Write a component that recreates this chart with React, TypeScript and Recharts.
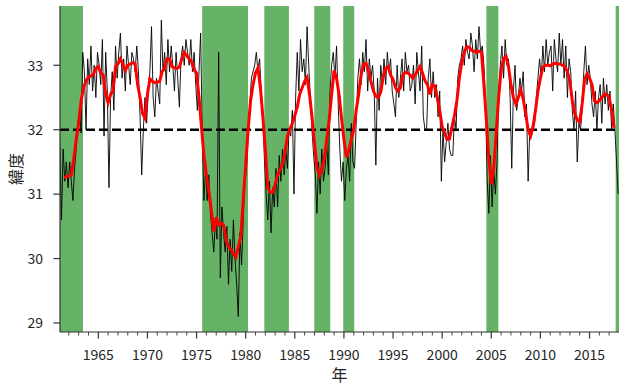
import React from 'react';
import { LineChart, Line, XAxis, YAxis, ReferenceArea, ReferenceLine } from 'recharts';

// Monthly-ish (bimonthly) observed latitude, one row per year starting 1961
const RAW_START_YEAR = 1961;
const rawLatitude: number[][] = [
  [31.8, 30.6, 31.7, 31.2, 31.5, 31.1], // 1961
  [31.5, 31.2, 30.9, 31.4, 31.7, 32.1], // 1962
  [32.3, 31.95, 33.2, 32.9, 32.0, 33.1], // 1963
  [32.7, 33.3, 32.6, 33.0, 32.5, 33.2], // 1964
  [33.0, 32.7, 33.4, 31.9, 33.2, 32.6], // 1965
  [31.1, 32.5, 32.9, 32.3, 33.3, 32.8], // 1966
  [33.2, 33.5, 32.8, 33.1, 32.6, 33.3], // 1967
  [33.0, 32.7, 33.2, 33.1, 32.9, 33.3], // 1968
  [32.9, 32.2, 31.3, 32.0, 32.5, 32.1], // 1969
  [32.6, 32.9, 33.6, 32.5, 32.2, 32.8], // 1970
  [32.6, 32.4, 33.7, 32.9, 33.2, 32.7], // 1971
  [33.4, 32.9, 33.3, 33.0, 32.6, 33.2], // 1972
  [32.8, 32.35, 33.1, 33.3, 33.0, 33.4], // 1973
  [33.2, 33.0, 33.4, 32.9, 33.2, 32.7], // 1974
  [32.3, 32.9, 33.5, 31.9, 30.9, 31.4], // 1975
  [30.9, 31.3, 30.7, 30.4, 30.1, 30.6], // 1976
  [30.3, 33.2, 29.7, 30.8, 30.4, 30.1], // 1977
  [30.5, 29.6, 30.3, 29.8, 30.6, 30.0], // 1978
  [29.6, 29.1, 30.4, 29.9, 30.6, 31.2], // 1979
  [31.4, 31.9, 32.4, 32.8, 32.9, 33.0], // 1980
  [33.2, 32.9, 33.1, 32.6, 32.2, 31.5], // 1981
  [31.0, 30.6, 31.2, 30.4, 31.1, 30.8], // 1982
  [31.4, 30.8, 31.6, 31.2, 31.7, 31.3], // 1983
  [31.7, 31.4, 32.0, 31.9, 32.3, 31.0], // 1984
  [32.5, 33.2, 32.6, 33.4, 32.9, 33.1], // 1985
  [32.7, 33.6, 33.0, 32.5, 32.0, 31.6], // 1986
  [31.3, 30.7, 31.5, 31.0, 31.7, 31.2], // 1987
  [31.4, 31.8, 31.3, 32.6, 33.0, 33.2], // 1988
  [32.8, 33.3, 32.4, 31.7, 31.2, 31.5], // 1989
  [30.9, 31.4, 31.6, 31.2, 32.1, 31.5], // 1990
  [31.4, 32.1, 32.8, 33.1, 32.7, 33.2], // 1991
  [32.9, 33.4, 32.6, 33.1, 32.8, 33.0], // 1992
  [32.6, 31.45, 32.8, 32.3, 33.0, 32.7], // 1993
  [33.1, 32.7, 33.2, 32.9, 33.1, 32.6], // 1994
  [32.4, 32.2, 33.0, 32.5, 32.8, 33.1], // 1995
  [32.6, 33.2, 32.9, 33.0, 32.6, 32.7], // 1996
  [33.0, 32.4, 33.2, 32.9, 32.6, 33.3], // 1997
  [32.2, 32.0, 32.0, 32.8, 33.1, 32.5], // 1998
  [32.9, 32.5, 32.7, 32.2, 32.6, 31.2], // 1999
  [32.0, 31.5, 31.8, 32.1, 31.7, 31.6], // 2000
  [31.6, 32.2, 32.0, 32.8, 33.0, 33.1], // 2001
  [33.3, 33.0, 33.4, 33.2, 33.1, 33.5], // 2002
  [33.3, 32.9, 33.4, 33.1, 33.6, 33.2], // 2003
  [33.3, 33.0, 32.4, 31.2, 30.7, 31.6], // 2004
  [30.8, 31.4, 31.0, 31.5, 32.6, 33.0], // 2005
  [33.3, 32.8, 33.4, 33.0, 33.1, 32.5], // 2006
  [31.4, 32.6, 33.0, 32.3, 32.5, 32.8], // 2007
  [32.6, 32.9, 32.2, 32.4, 31.2, 32.0], // 2008
  [31.9, 32.0, 32.1, 32.5, 32.8, 33.1], // 2009
  [32.8, 33.3, 32.9, 33.4, 33.0, 33.2], // 2010
  [33.3, 32.6, 33.4, 33.1, 32.9, 33.5], // 2011
  [33.0, 33.4, 32.8, 33.3, 32.5, 33.1], // 2012
  [32.9, 32.3, 32.0, 32.6, 31.5, 32.1], // 2013
  [32.0, 32.3, 32.9, 33.3, 32.7, 33.0], // 2014
  [32.8, 32.4, 32.2, 32.6, 32.0, 32.5], // 2015
  [32.7, 32.1, 32.8, 32.4, 32.7, 32.3], // 2016
  [32.6, 32.0, 32.4, 32.0, 31.5, 31.0], // 2017
];

// Smoothed latitude, quarterly, starting 1961.5
const SMOOTH_START = 1961.5;
const smoothLatitude: number[] = [
  31.26, 31.27,
  31.28, 31.30, 31.55, 31.85,
  32.10, 32.45, 32.65, 32.76,
  32.82, 32.83, 32.86, 32.95,
  32.98, 32.88, 32.85, 32.55,
  32.42, 32.55, 32.60, 32.98,
  33.02, 33.10, 33.02, 32.92,
  33.00, 33.02, 33.04, 33.02,
  32.70, 32.50, 32.25, 32.18,
  32.55, 32.79, 32.75, 32.73,
  32.74, 32.75, 32.90, 32.95,
  33.10, 33.10, 32.98, 32.96,
  32.95, 32.97, 33.10, 33.20,
  33.15, 33.10, 33.05, 32.93,
  32.88, 32.50, 32.04, 31.60,
  31.30, 31.05, 30.75, 30.42,
  30.64, 30.52, 30.55, 30.52,
  30.30, 30.18, 30.15, 30.08,
  30.02, 30.18, 30.35, 30.90,
  31.45, 32.00, 32.45, 32.70,
  32.88, 32.96, 32.65, 32.20,
  31.70, 31.10, 31.03, 31.03,
  31.15, 31.30, 31.38, 31.46,
  31.65, 31.90, 32.01, 32.10,
  32.22, 32.35, 32.55, 32.65,
  32.75, 32.81, 32.55, 32.20,
  31.80, 31.42, 31.29, 31.38,
  31.55, 31.85, 32.15, 32.55,
  32.92, 32.80, 32.55, 32.19,
  31.85, 31.57, 31.68, 31.85,
  32.00, 32.30, 32.55, 32.85,
  33.02, 33.03, 32.91, 32.75,
  32.60, 32.52, 32.50, 32.58,
  32.82, 32.95, 32.98, 32.85,
  32.78, 32.65, 32.60, 32.65,
  32.85, 32.89, 32.88, 32.85,
  32.80, 32.85, 32.92, 32.98,
  32.88, 32.76, 32.70, 32.55,
  32.70, 32.68, 32.50, 32.30,
  32.05, 31.95, 31.85, 31.86,
  32.05, 32.22, 32.45, 32.80,
  33.05, 33.20, 33.29, 33.28,
  33.23, 33.22, 33.20, 33.22,
  33.20, 32.70, 32.15, 31.55,
  31.15, 31.40, 31.95, 32.50,
  32.92, 33.10, 33.14, 32.98,
  32.70, 32.50, 32.40, 32.50,
  32.62, 32.48, 32.25, 32.00,
  31.90, 32.05, 32.30, 32.60,
  32.80, 32.97, 33.00, 33.00,
  32.99, 33.02, 33.03, 33.02,
  33.02, 33.00, 32.98, 32.90,
  32.75, 32.45, 32.25, 32.15,
  32.12, 32.40, 32.78, 32.87,
  32.80, 32.70, 32.45, 32.42,
  32.45, 32.50, 32.55, 32.55,
  32.50, 32.30, 32.03,
];

// Large-meander periods (shaded), [start, end] in decimal years
const meanderStarts: number[] = [1961.1, 1975.57, 1981.9, 1986.98, 1989.93, 2004.5, 2017.66];
const meanderEnds: number[] = [1963.44, 1980.24, 1984.4, 1988.61, 1991.05, 2005.72, 2018.0];

const THRESHOLD = 32;
const xTicks: number[] = Array.from({ length: 56 }, (_, i) => 1962 + i);
const yTicks: number[] = [29, 30, 31, 32, 33];
const X_DOMAIN: [number, number] = [1961.1, 2018.0];
const Y_DOMAIN: [number, number] = [28.86, 33.92];

const rawData = rawLatitude.flatMap((row, yi) =>
  row.map((v, k) => ({ t: RAW_START_YEAR + yi + (k + 0.5) / 6, v }))
);
const smoothData = smoothLatitude.map((v, i) => ({ t: SMOOTH_START + i * 0.25, v }));

const FONT = '"Noto Sans CJK JP", "Noto Sans", sans-serif';
const AX = '#333333';

const XTick = (props: any) => {
  const { x, y, payload } = props;
  const major = payload.value % 5 === 0;
  return (
    <g>
      <line x1={x} x2={x} y1={y} y2={y + (major ? 6.5 : 3.5)} stroke={AX} strokeWidth={major ? 1.2 : 0.9} />
      {major && (
        <text x={x} y={y + 28} textAnchor="middle" fontFamily={FONT} fontSize={14} fill="#262626">
          {payload.value}
        </text>
      )}
    </g>
  );
};

const YTick = (props: any) => {
  const { x, y, payload } = props;
  return (
    <g>
      <line x1={x - 6.5} x2={x} y1={y} y2={y} stroke={AX} strokeWidth={1.2} />
      <text x={x - 17} y={y + 5.3} textAnchor="end" fontFamily={FONT} fontSize={14} fill="#262626">
        {payload.value}
      </text>
    </g>
  );
};

export default function App() {
  return (
    <div style={{ position: 'absolute', left: 0, top: 0, background: '#fff' }}>
      <LineChart width={625} height={387} margin={{ top: 6, right: 6, bottom: 0, left: 0 }}>
        <XAxis
          xAxisId="main"
          type="number"
          dataKey="t"
          domain={X_DOMAIN}
          allowDataOverflow
          ticks={xTicks}
          interval={0}
          tick={<XTick />}
          tickLine={false}
          tickSize={0}
          tickMargin={0}
          height={55}
          axisLine={{ stroke: AX, strokeWidth: 1.2 }}
          label={{
            content: () => (
              <text x={339.5} y={381} textAnchor="middle" fontFamily={FONT} fontSize={16} fill="#262626">
                年
              </text>
            ),
          }}
        />
        <XAxis
          xAxisId="top"
          orientation="top"
          type="number"
          domain={X_DOMAIN}
          allowDataOverflow
          tick={false}
          tickLine={false}
          height={0}
          axisLine={{ stroke: AX, strokeWidth: 1.2 }}
        />
        <YAxis
          yAxisId="main"
          type="number"
          domain={Y_DOMAIN}
          allowDataOverflow
          ticks={yTicks}
          interval={0}
          tick={<YTick />}
          tickLine={false}
          tickSize={0}
          tickMargin={0}
          width={60}
          axisLine={{ stroke: AX, strokeWidth: 1.2 }}
          label={{
            content: () => (
              <text
                x={15}
                y={169}
                transform="rotate(-90 15 169)"
                textAnchor="middle"
                dominantBaseline="central"
                fontFamily={FONT}
                fontSize={16}
                fill="#262626"
              >
                緯度
              </text>
            ),
          }}
        />
        <YAxis
          yAxisId="right"
          orientation="right"
          type="number"
          domain={Y_DOMAIN}
          allowDataOverflow
          tick={false}
          tickLine={false}
          width={0}
          axisLine={{ stroke: AX, strokeWidth: 1.2 }}
        />
        {meanderStarts.map((s, i) => (
          <ReferenceArea
            key={i}
            xAxisId="main"
            yAxisId="main"
            x1={s}
            x2={meanderEnds[i]}
            fill="#66b266"
            fillOpacity={1}
            stroke="none"
            ifOverflow="hidden"
          />
        ))}
        <Line
          xAxisId="main"
          yAxisId="main"
          data={rawData}
          dataKey="v"
          type="linear"
          stroke="#000"
          strokeWidth={0.9}
          dot={false}
          activeDot={false}
          isAnimationActive={false}
        />
        <ReferenceLine
          xAxisId="main"
          yAxisId="main"
          y={THRESHOLD}
          stroke="#000"
          strokeWidth={2.5}
          strokeDasharray="9 4"
        />
        <Line
          xAxisId="main"
          yAxisId="main"
          data={smoothData}
          dataKey="v"
          type="linear"
          stroke="#ff0000"
          strokeWidth={3}
          dot={false}
          activeDot={false}
          isAnimationActive={false}
        />
      </LineChart>
    </div>
  );
}
